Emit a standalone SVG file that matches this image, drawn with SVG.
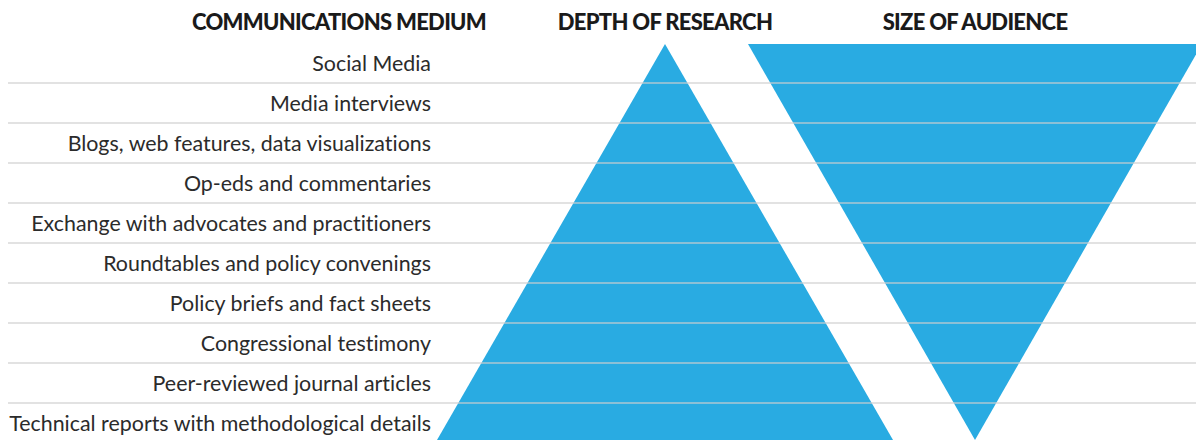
<svg xmlns="http://www.w3.org/2000/svg" width="1196" height="440" viewBox="0 0 1196 440">
<style>
.hdr{font-family:Lato,"Liberation Sans",sans-serif;font-weight:900;font-size:22px;fill:#1a1a1a;text-anchor:middle;letter-spacing:-0.7px}
.lbl{font-family:Lato,"Liberation Sans",sans-serif;font-size:21.4px;fill:#2b2b2b;text-anchor:end;font-variant-ligatures:none}
.tri{fill:#29abe2}
.rule{stroke:#cfcfcf;stroke-width:2;stroke-opacity:0.6}
</style>
<rect width="1196" height="440" fill="#fff"/>
<g id="headers">
<text class="hdr" x="339" y="30">COMMUNICATIONS MEDIUM</text>
<text class="hdr" x="665" y="30">DEPTH OF RESEARCH</text>
<text class="hdr" x="975" y="30">SIZE OF AUDIENCE</text>
</g>
<g id="depth-pyramid"><polygon class="tri" points="665,44 893,440 437,440"/></g>
<g id="audience-pyramid"><polygon class="tri" points="748,44 1202,44 975,440"/></g>
<g id="labels">
<text class="lbl" x="431" y="71">Social Media</text>
<text class="lbl" x="431" y="111">Media interviews</text>
<text class="lbl" x="431" y="151">Blogs, web features, data visualizations</text>
<text class="lbl" x="431" y="191">Op-eds and commentaries</text>
<text class="lbl" x="431" y="231">Exchange with advocates and practitioners</text>
<text class="lbl" x="431" y="271">Roundtables and policy convenings</text>
<text class="lbl" x="431" y="311">Policy briefs and fact sheets</text>
<text class="lbl" x="431" y="351">Congressional testimony</text>
<text class="lbl" x="431" y="391">Peer-reviewed journal articles</text>
<text class="lbl" x="431" y="431">Technical reports with methodological details</text>
</g>
<g id="rules">
<line class="rule" x1="8" y1="83" x2="1196" y2="83"/>
<line class="rule" x1="8" y1="123" x2="1196" y2="123"/>
<line class="rule" x1="8" y1="163" x2="1196" y2="163"/>
<line class="rule" x1="8" y1="203" x2="1196" y2="203"/>
<line class="rule" x1="8" y1="243" x2="1196" y2="243"/>
<line class="rule" x1="8" y1="283" x2="1196" y2="283"/>
<line class="rule" x1="8" y1="323" x2="1196" y2="323"/>
<line class="rule" x1="8" y1="363" x2="1196" y2="363"/>
<line class="rule" x1="8" y1="403" x2="1196" y2="403"/>
</g>
</svg>
